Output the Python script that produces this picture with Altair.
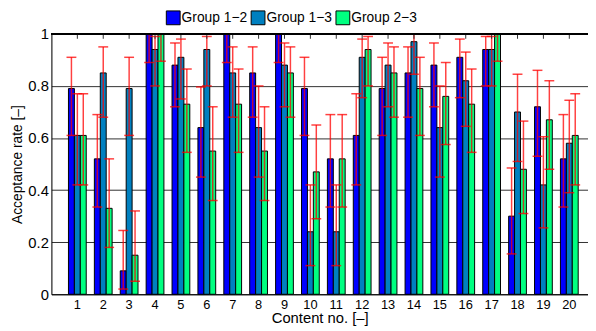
import altair as alt
import pandas as pd

contents = [str(i) for i in range(1, 21)]
groups = ["Group 1\u22122", "Group 1\u22123", "Group 2\u22123"]
colors = ["#0000FF", "#0080C0", "#00FF80"]

blue = [0.79, 0.52, 0.09, 1.0, 0.88, 0.64, 1.0, 0.85, 1.0, 0.79, 0.52, 0.61, 0.79, 0.85, 0.88, 0.91, 0.94, 0.30, 0.72, 0.52]
blue_lo = [0.61, 0.335, 0.02, 0.89, 0.72, 0.45, 0.89, 0.68, 0.89, 0.61, 0.335, 0.42, 0.61, 0.68, 0.72, 0.755, 0.80, 0.155, 0.53, 0.335]
blue_hi = [0.91, 0.69, 0.245, 1.0, 0.965, 0.796, 1.0, 0.95, 1.0, 0.91, 0.69, 0.77, 0.91, 0.95, 0.965, 0.98, 0.99, 0.485, 0.86, 0.69]

teal = [0.61, 0.85, 0.79, 0.94, 0.91, 0.94, 0.85, 0.64, 0.88, 0.24, 0.24, 0.91, 0.88, 0.97, 0.64, 0.82, 0.94, 0.70, 0.42, 0.58]
teal_lo = [0.42, 0.68, 0.61, 0.80, 0.75, 0.80, 0.68, 0.45, 0.72, 0.11, 0.11, 0.755, 0.72, 0.845, 0.45, 0.645, 0.80, 0.51, 0.255, 0.39]
teal_hi = [0.77, 0.95, 0.91, 0.99, 0.98, 0.99, 0.95, 0.80, 0.965, 0.42, 0.42, 0.98, 0.965, 1.0, 0.80, 0.93, 0.99, 0.845, 0.605, 0.745]

green = [0.61, 0.33, 0.15, 1.0, 0.73, 0.55, 0.73, 0.55, 0.85, 0.47, 0.52, 0.94, 0.85, 0.79, 0.76, 0.73, 1.0, 0.48, 0.67, 0.61]
green_lo = [0.42, 0.18, 0.05, 0.895, 0.545, 0.36, 0.545, 0.36, 0.68, 0.29, 0.335, 0.80, 0.68, 0.61, 0.575, 0.545, 0.895, 0.31, 0.48, 0.42]
green_hi = [0.77, 0.52, 0.32, 1.0, 0.865, 0.72, 0.865, 0.72, 0.95, 0.65, 0.69, 0.99, 0.95, 0.91, 0.89, 0.865, 1.0, 0.665, 0.82, 0.77]

y_ticks = [0, 0.2, 0.4, 0.6, 0.8, 1]

rows = []
for g, vals, lo, hi in [
    (groups[0], blue, blue_lo, blue_hi),
    (groups[1], teal, teal_lo, teal_hi),
    (groups[2], green, green_lo, green_hi),
]:
    for c, v, l, h in zip(contents, vals, lo, hi):
        rows.append({"content": c, "group": g, "value": v, "lo": l, "hi": h})
df = pd.DataFrame(rows)
cats = pd.DataFrame({"content": contents})

FONT = "Liberation Sans"
W, H = 544, 264

xscale = alt.Scale(domain=contents, paddingInner=0.314, paddingOuter=0.519, align=0.635)
yscale = alt.Scale(domain=[0, 1], nice=False)
offscale = alt.Scale(domain=groups, paddingInner=0, paddingOuter=0)

x_enc = alt.X(
    "content:N",
    scale=xscale,
    sort=contents,
    axis=alt.Axis(
        title="Content no. [\u2013]",
        labelAngle=0,
        ticks=False,
        domain=True,
        domainColor="black",
        domainWidth=1,
        labelFontSize=13,
        labelPadding=4,
        titleFontSize=15,
        titleFontWeight="normal",
        titlePadding=0,
        labelColor="black",
        titleColor="black",
    ),
)

bars = alt.Chart(df).mark_bar(stroke="black", strokeWidth=1).encode(
    x=x_enc,
    xOffset=alt.XOffset("group:N", scale=offscale, sort=groups),
    y=alt.Y(
        "value:Q",
        scale=yscale,
        axis=alt.Axis(
            title="Acceptance rate [\u2013]",
            values=y_ticks,
            format="~g",
            grid=True,
            gridColor="#303030",
            gridWidth=1,
            ticks=False,
            domain=True,
            domainColor="black",
            domainWidth=1,
            labelFontSize=15,
            labelPadding=3,
            titleFontSize=14,
            titleFontWeight="normal",
            titlePadding=3,
            labelColor="black",
            titleColor="black",
        ),
    ),
    color=alt.Color(
        "group:N",
        scale=alt.Scale(domain=groups, range=colors),
        legend=alt.Legend(
            title=None,
            orient="none",
            direction="horizontal",
            legendX=116,
            legendY=-24,
            symbolType="square",
            symbolSize=196,
            symbolStrokeColor="black",
            symbolStrokeWidth=1,
            symbolOpacity=1,
            labelFontSize=14,
            labelOffset=1,
            columnPadding=1,
            labelColor="black",
        ),
    ),
)

err = alt.Chart(df).mark_rule(color="#FF0000", strokeWidth=1.5, opacity=0.75).encode(
    x=alt.X("content:N", scale=xscale, sort=contents),
    xOffset=alt.XOffset("group:N", scale=offscale, sort=groups),
    y=alt.Y("lo:Q", scale=yscale),
    y2="hi:Q",
)

cap_lo = alt.Chart(df).mark_tick(color="#FF0000", size=10, thickness=1.5, opacity=0.75).encode(
    x=alt.X("content:N", scale=xscale, sort=contents),
    xOffset=alt.XOffset("group:N", scale=offscale, sort=groups),
    y=alt.Y("lo:Q", scale=yscale),
)
cap_hi = alt.Chart(df).mark_tick(color="#FF0000", size=10, thickness=1.5, opacity=0.75).encode(
    x=alt.X("content:N", scale=xscale, sort=contents),
    xOffset=alt.XOffset("group:N", scale=offscale, sort=groups),
    y=alt.Y("hi:Q", scale=yscale),
)

top_ticks = alt.Chart(cats).mark_rule(color="#303030", strokeWidth=1).encode(
    x=alt.X("content:N", scale=xscale, sort=contents),
    y=alt.value(0),
    y2=alt.value(5),
)

top_frame = alt.Chart(cats).mark_rule(color="black", strokeWidth=1).encode(
    x=alt.value(0),
    x2=alt.value(W),
    y=alt.value(0),
)

chart = (
    alt.layer(bars, err, cap_lo, cap_hi, top_ticks, top_frame)
    .properties(
        width=W,
        height=H,
        autosize=alt.AutoSizeParams(type="none"),
        padding={"left": 44, "top": 24, "right": 0, "bottom": 34},
    )
    .configure_view(strokeWidth=0)
    .configure(font=FONT)
)

chart.save("out.html", embed_options={"renderer": "svg", "actions": False})
